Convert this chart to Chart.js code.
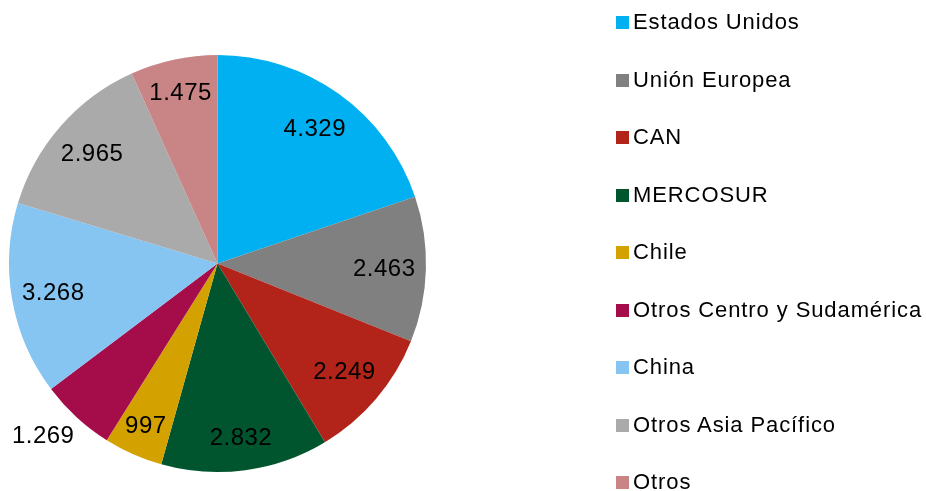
<!DOCTYPE html>
<html lang="es">
<head>
<meta charset="utf-8">
<title>Exportaciones por destino</title>
<script src="https://cdn.jsdelivr.net/npm/chart.js@4.4.1/dist/chart.umd.min.js"></script>
<style>
  html, body { margin: 0; padding: 0; background: #fff; }
  .wrap { position: relative; width: 926px; height: 491px; }
  #pieChart { position: absolute; left: 0; top: 0; }
  .legend { position: absolute; left: 616px; top: 0; margin: 0; padding: 0; list-style: none;
    font-family: "Liberation Sans", Arial, sans-serif; font-size: 22px; letter-spacing: 0.9px; color: #000; }
  .legend li { position: absolute; left: 0; white-space: nowrap; height: 24px; line-height: 24px; }
  .legend .box { position: absolute; left: 0; top: 6px; width: 13px; height: 13px; }
  .legend .txt { position: absolute; left: 17px; top: 0; }
</style>
</head>
<body>
<div class="wrap">
  <canvas id="pieChart" width="926" height="491"></canvas>
  <ul class="legend" id="legend"></ul>
</div>
<script>
  const regions = [
    "Estados Unidos",
    "Unión Europea",
    "CAN",
    "MERCOSUR",
    "Chile",
    "Otros Centro y Sudamérica",
    "China",
    "Otros Asia Pacífico",
    "Otros"
  ];
  const values = [4329, 2463, 2249, 2832, 997, 1269, 3268, 2965, 1475];
  const sliceColors = [
    "#00b0f0", "#808080", "#b2241a", "#00552f", "#d4a200",
    "#a50d4a", "#86c5f2", "#aaaaaa", "#c98585"
  ];
  // label distance from centre, as a share of the radius
  const labelRadius = [0.8, 0.8, 0.8, 0.84, 0.85, 1.18, 0.8, 0.8, 0.84];

  function formatValue(value) {
    return String(value).replace(/\B(?=(\d{3})+(?!\d))/g, ".");
  }

  const valueLabels = {
    id: "valueLabels",
    afterDatasetsDraw(chart) {
      const ctx = chart.ctx;
      const meta = chart.getDatasetMeta(0);

      ctx.save();
      ctx.font = "24px 'Liberation Sans', Arial, sans-serif";
      ctx.letterSpacing = "0.5px";
      ctx.fillStyle = "#000";
      ctx.textAlign = "center";
      ctx.textBaseline = "middle";

      meta.data.forEach((arc, index) => {
        const mid = (arc.startAngle + arc.endAngle) / 2;
        const dist = arc.outerRadius * labelRadius[index];
        let x = arc.x + Math.cos(mid) * dist;
        let y = arc.y + Math.sin(mid) * dist;
        if (labelRadius[index] > 1) {
          // outside label sits a bit more to the left, like the original
          x -= 8;
          y -= 9;
        }
        ctx.fillText(formatValue(values[index]), x, y + 1);
      });

      ctx.restore();
    }
  };

  function renderLegend() {
    const legendEl = document.getElementById("legend");

    regions.forEach((name, index) => {
      const item = document.createElement("li");
      item.style.top = (10 + index * 57.5) + "px";

      const box = document.createElement("span");
      box.className = "box";
      box.style.background = sliceColors[index];

      const text = document.createElement("span");
      text.className = "txt";
      text.textContent = name;

      item.appendChild(box);
      item.appendChild(text);
      legendEl.appendChild(item);
    });
  }

  new Chart(document.getElementById("pieChart").getContext("2d"), {
    type: "pie",
    data: {
      labels: regions,
      datasets: [{
        data: values,
        backgroundColor: sliceColors,
        borderWidth: 0
      }]
    },
    options: {
      responsive: false,
      animation: false,
      layout: {
        padding: { left: 9, top: 55, right: 500, bottom: 19 }
      },
      plugins: {
        legend: { display: false },
        tooltip: { enabled: false }
      }
    },
    plugins: [valueLabels]
  });

  renderLegend();
</script>
</body>
</html>
